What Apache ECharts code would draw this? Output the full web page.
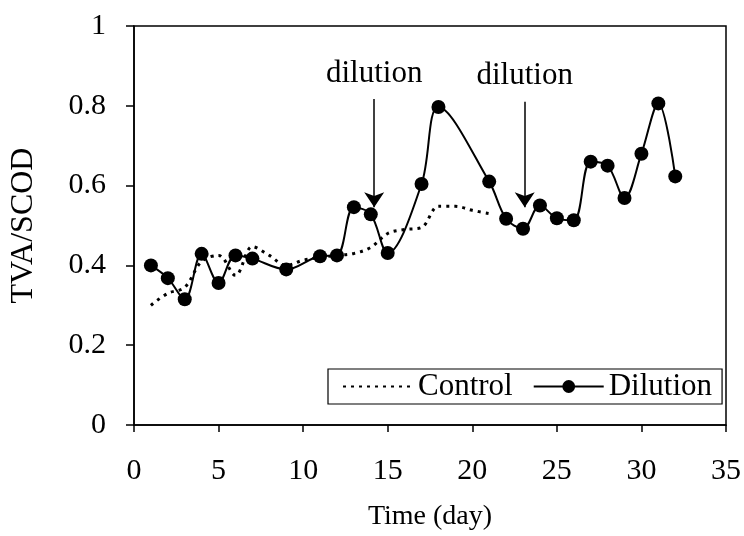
<!DOCTYPE html>
<html>
<head>
<meta charset="utf-8">
<script src="https://cdn.jsdelivr.net/npm/echarts@6/dist/echarts.min.js"></script>
<style>html,body{margin:0;padding:0;background:#fff}#c{width:744px;height:536px}</style>
</head>
<body>
<div id="c"></div>
<script>
// Data
const controlDays   = [1, 2, 3, 4, 5, 6, 7, 8, 9, 10, 11, 12, 13, 14, 15, 16, 17, 18, 19, 20, 21];
const controlValues = [0.30, 0.33, 0.345, 0.41, 0.425, 0.375, 0.447, 0.425, 0.40, 0.413, 0.42, 0.425, 0.43, 0.445, 0.48, 0.49, 0.495, 0.548, 0.548, 0.538, 0.53];
const dilutionDays   = [1, 2, 3, 4, 5, 6, 7, 9, 11, 12, 13, 14, 15, 17, 18, 21, 22, 23, 24, 25, 26, 27, 28, 29, 30, 31, 32];
const dilutionValues = [0.40, 0.368, 0.315, 0.429, 0.356, 0.425, 0.417, 0.39, 0.423, 0.425, 0.546, 0.528, 0.431, 0.604, 0.797, 0.61, 0.517, 0.492, 0.55, 0.518, 0.513, 0.66, 0.65, 0.569, 0.68, 0.806, 0.623];
const arrowDays   = [14.2, 23.1];
const arrowTops   = [0.817, 0.81];
const arrowTips   = [0.546, 0.546];
const arrowLabels = ['dilution', 'dilution'];
const seriesNames = ['Control', 'Dilution'];
const xTitle = 'Time (day)';
const yTitle = 'TVA/SCOD';

const FONT = 'Liberation Serif';
const chart = echarts.init(document.getElementById('c'), null, {renderer: 'canvas'});

const arrows = arrowDays.map((d, i) => [
  {coord: [d, arrowTops[i]], label: {formatter: arrowLabels[i]}},
  {coord: [d, arrowTips[i]]}
]);

chart.setOption({
  animation: false,
  backgroundColor: '#fff',
  grid: {left: 131, right: 18, top: 26, bottom: 111, show: true, borderColor: '#000', borderWidth: 1.5, backgroundColor: 'transparent'},
  legend: {
    left: 328, top: 369,
    orient: 'horizontal',
    borderColor: '#000', borderWidth: 1.2,
    padding: [2, 10, 2, 14],
    itemWidth: 70, itemHeight: 16, itemGap: 20,
    textStyle: {fontFamily: FONT, fontSize: 31, color: '#000'},
    data: [
      {name: seriesNames[0], itemStyle: {color: 'rgba(0,0,0,0)', borderWidth: 0}},
      {name: seriesNames[1]}
    ]
  },
  xAxis: {
    type: 'value', min: 0, max: 35, interval: 5,
    name: xTitle, nameLocation: 'middle', nameGap: 78,
    nameTextStyle: {fontFamily: FONT, fontSize: 28, color: '#000'},
    axisLine: {show: true, onZero: false, lineStyle: {color: '#000', width: 1.5}},
    axisTick: {show: true, inside: false, length: 7, lineStyle: {color: '#000', width: 1.5}},
    axisLabel: {fontFamily: FONT, fontSize: 30, color: '#000', margin: 31},
    splitLine: {show: false}
  },
  yAxis: {
    type: 'value', min: 0, max: 1, interval: 0.2,
    name: yTitle, nameLocation: 'middle', nameGap: 94, nameRotate: 90,
    nameTextStyle: {fontFamily: FONT, fontSize: 32, color: '#000'},
    axisLine: {show: true, lineStyle: {color: '#000', width: 1.5}},
    axisTick: {show: true, inside: false, length: 8, lineStyle: {color: '#000', width: 1.5}},
    axisLabel: {fontFamily: FONT, fontSize: 30, color: '#000', margin: 28},
    splitLine: {show: false}
  },
  series: [
    {
      name: seriesNames[0], type: 'line',
      data: controlDays.map((d, i) => [d, controlValues[i]]),
      smooth: 0.35, showSymbol: false, symbol: 'none',
      lineStyle: {color: '#000', width: 3, type: [3, 5], cap: 'butt'},
      itemStyle: {color: '#000'},
      z: 2
    },
    {
      name: seriesNames[1], type: 'line',
      data: dilutionDays.map((d, i) => [d, dilutionValues[i]]),
      smooth: 0.35, symbol: 'circle', symbolSize: 14,
      lineStyle: {color: '#000', width: 2},
      itemStyle: {color: '#000'},
      z: 3,
      markLine: {
        silent: true, animation: false,
        symbol: ['none', 'arrow'], symbolSize: 15,
        lineStyle: {color: '#000', width: 1.5, type: 'solid'},
        label: {show: true, position: 'start', distance: 10, fontFamily: FONT, fontSize: 31, color: '#000'},
        data: arrows
      }
    }
  ]
});
</script>
</body>
</html>
